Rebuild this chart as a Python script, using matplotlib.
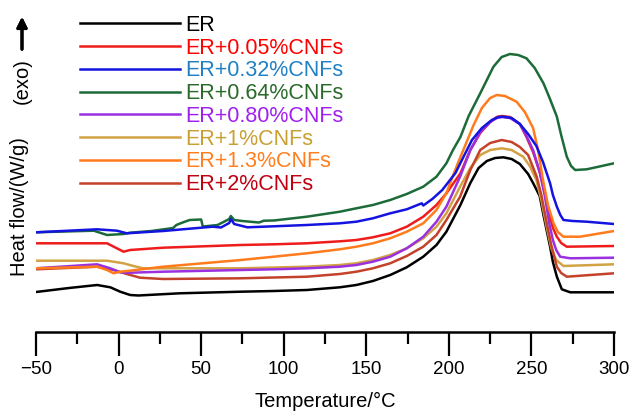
# DSC curves of ER / CNF composites

import numpy as np
import matplotlib
matplotlib.use('Agg')
import matplotlib.pyplot as plt

plt.rcParams['font.family'] = ['Liberation Sans', 'DejaVu Sans']

################################### Data #######################################
# heat flow values (arbitrary offset, W/g x 100)

t_er  = [-50, -30, -13, -5, 1, 7, 12, 37, 74, 94, 114, 134, 144, 154, 164.5, 174.5, 184.5, 192.5,
         198.5, 207, 213, 218, 223, 228, 233, 238, 243, 248, 251, 255, 257.4, 261.3, 263, 265.4,
         268.4, 273.5, 300]
hf_er = [38, 42, 45, 42.7, 38.3, 35, 34.5, 36.7, 38.3, 39, 40, 42.7, 45, 49, 55, 62.7, 73.3, 85,
         98.3, 125, 147, 162, 169, 172, 172.7, 171, 166, 156, 147, 134, 114, 83.3, 68, 53.3,
         40.7, 37.7, 37.7]

t_005  = [-50, -20, -7, -1, 3, 7, 27, 74, 94, 114, 134, 144, 154, 164.5, 174.5, 184.5, 192.5,
          198.5, 207, 213, 219, 225, 229, 232, 237, 243, 247, 251, 255, 258, 261, 263, 265.4,
          268, 271.4, 300]
hf_005 = [86.7, 86.7, 86.7, 81.7, 78.3, 80, 82.3, 85, 85.7, 86.7, 88.7, 90, 92.7, 96.7, 103.3,
          113.3, 125, 136.7, 156.7, 180, 197, 208, 213, 214, 213, 206, 193, 178, 158, 138, 115,
          102, 93.3, 87, 83.3, 84]

t_032  = [-50, -13, -1, 5, 27, 57, 62, 67, 68, 70, 78, 94, 114, 134, 144, 154, 164.5, 174.5,
          183.6, 184.5, 190, 196, 204, 207, 214, 220, 226, 230, 233, 238, 243, 248, 253, 257,
          261.3, 263, 265.4, 267.5, 269.4, 275, 283.5, 300]
hf_032 = [97.7, 100.7, 99.3, 96.7, 99, 103.3, 102.5, 107, 111, 106, 102.7, 103.7, 105, 106.7,
          108.3, 111.7, 116.7, 120.7, 126.7, 124.5, 131, 140, 157, 167, 190, 202, 210, 213, 213.3,
          212, 206, 196, 184, 168, 146.7, 135, 123.3, 115, 110, 109, 108.3, 106]

t_064  = [-50, -15, -7, 3, 7, 20, 33, 35, 38, 43, 50, 51, 60, 67, 68, 70, 75, 85, 88, 94, 114,
          134, 144, 154, 164.5, 174.5, 184.5, 192.5, 198.5, 202.5, 207, 212, 219, 223, 227, 232,
          237, 242, 247, 252, 257.3, 261, 265.4, 268, 271.4, 274, 276.5, 283.5, 300]
hf_064 = [97.7, 99.3, 95, 96, 97.3, 99, 102, 105, 107, 110, 110.5, 103.5, 105, 111, 114, 110,
          109, 107.5, 109.3, 109.5, 113.3, 118.3, 121.7, 125, 130, 136, 143.3, 153.3, 166.7, 180,
          193, 214, 236.7, 250, 263.3, 273, 276, 275, 271.7, 262, 246.7, 232, 213.3, 195, 173.3,
          164, 160, 160.7, 166.7]

t_080  = [-50, -13, -5, 1, 7, 27, 74, 94, 114, 134, 144, 154, 164.5, 174.5, 184.5, 192.5, 198.5,
          206.8, 213, 219, 225, 229, 232, 237, 243, 247, 251, 255, 258, 261, 263, 265, 267.4,
          273.5, 300]
hf_080 = [61.7, 65.7, 61.7, 57.7, 57.3, 58.3, 60, 60.7, 61.7, 63.3, 65, 68.3, 73.3, 81.7, 93.3,
          108.3, 123.3, 153.3, 180, 198, 208, 212, 213, 212, 206, 194, 180, 158, 135, 105, 90,
          80, 73.3, 71.7, 72.3]

t_1  = [-50, -7, 3, 9, 15, 50, 74, 114, 134, 144, 154, 164.5, 174.5, 184.5, 192.5, 198.5, 206.8,
        213, 219, 225, 232, 238, 245, 249, 253, 256, 259, 262, 265, 269.4, 300]
hf_1 = [69.3, 69.3, 66.7, 64, 61.7, 61.7, 61.7, 63.3, 65, 66.7, 70, 75, 81.7, 91.7, 103.3, 116.7,
        143.3, 162, 175, 180, 181.7, 180, 173.3, 164, 150, 130, 105, 82, 70, 64, 65.7]

t_13  = [-50, -13, -7, -3, 1, 7, 27, 74, 94, 114, 134, 144, 154, 164.5, 174.5, 184.5, 192.5,
         198.5, 205, 210, 215, 220, 225, 229, 234, 241, 246, 251, 254, 257, 260, 263.4, 266,
         269.4, 279.5, 300]
hf_13 = [61.7, 63.3, 60, 56.7, 58.3, 59.3, 63.3, 70, 73.3, 76.7, 80.7, 83.3, 86.7, 91.7, 98.3,
         106.7, 120, 137, 165, 185, 205, 222, 232, 235, 234, 228.3, 218, 202, 180, 150, 125,
         106.7, 98, 93.3, 93.3, 99]

t_2  = [-50, -13, -3, 5, 13, 27, 74, 114, 134, 144, 154, 164.5, 174.5, 184.5, 192.5, 198.5,
        206.8, 213, 219, 225, 232, 238, 243, 248, 253.2, 256, 259.3, 262, 265.4, 268, 271.4, 300]
hf_2 = [60.7, 63.3, 60, 56, 52.3, 51, 51.7, 53.3, 56, 58.3, 61.7, 66.7, 74, 83.3, 95, 110, 133.3,
        160, 180, 187, 190, 188, 183, 175, 153.3, 135, 106.7, 85, 63.3, 57, 53.3, 56.7]

labels = ['ER', 'ER+0.05%CNFs', 'ER+0.32%CNFs', 'ER+0.64%CNFs', 'ER+0.80%CNFs',
          'ER+1%CNFs', 'ER+1.3%CNFs', 'ER+2%CNFs']
line_colors = ['black', '#ef1c1c', '#1414e0', '#1d6b38', '#9a30e0', '#d2a244', '#ff7b1c', '#c4412a']
text_colors = ['black', '#ff0000', '#2080c4', '#2a6a2a', '#a020f0', '#c8a032', '#ff7f1f', '#c00010']
zorders     = [3, 4, 8, 2, 5, 3, 6, 3]

temps = [t_er, t_005, t_032, t_064, t_080, t_1, t_13, t_2]
flows = [hf_er, hf_005, hf_032, hf_064, hf_080, hf_1, hf_13, hf_2]

################################### Plot #######################################

fig = plt.figure(figsize=(6.32, 4.12), dpi=100)
ax = fig.add_axes([36/632, 1 - 332/412, 578/632, 332/412])

handles = []
for t, hf, c, lab, z in zip(temps, flows, line_colors, labels, zorders):
    h, = ax.plot(t, np.array(hf)/100, color=c, lw=1.8, label=lab, zorder=z,
                 solid_joinstyle='round')
    handles.append(h)

ax.set_xlim(-50, 300)
ax.set_ylim(-0.02, 3.30)
ax.set_xticks(np.arange(-50, 301, 50))
ax.set_xticklabels(['\u221250', '0', '50', '100', '150', '200', '250', '300'])
ax.set_xticks(np.arange(-25, 300, 50), minor=True)
ax.set_yticks([])
for s in ['left', 'top', 'right']:
    ax.spines[s].set_visible(False)
ax.spines['bottom'].set_linewidth(1.8)
ax.tick_params(axis='x', which='major', direction='out', length=17, width=1.6,
               labelsize=13.5, pad=4)
ax.tick_params(axis='x', which='minor', direction='out', length=8.5, width=1.6)
ax.set_xlabel('Temperature/\u00b0C', fontsize=14.5, labelpad=10)

leg = ax.legend(handles=handles, loc='upper left', bbox_to_anchor=(44/578, 1 - 15/332),
                frameon=False, fontsize=15.5, handlelength=4.65, handletextpad=0.23,
                labelspacing=0.08, borderaxespad=0, borderpad=0)
for txt, c in zip(leg.get_texts(), text_colors):
    txt.set_color(c)

# y label with exo arrow
fig.text(20/632, 1 - 207/412, 'Heat flow/(W/g)', rotation=90, ha='center', va='center',
         fontsize=14.5)
fig.text(22/632, 1 - 81/412, '(exo)', rotation=90, ha='center', va='center', fontsize=14.5)
fig.add_artist(plt.annotate('', xy=(22/632, 1 - 14/412), xytext=(22/632, 1 - 52/412),
                            xycoords='figure fraction',
                            arrowprops=dict(arrowstyle='-|>,head_length=0.6,head_width=0.3',
                                            lw=2.2, color='black')))

fig.savefig('out.png', dpi=100)
